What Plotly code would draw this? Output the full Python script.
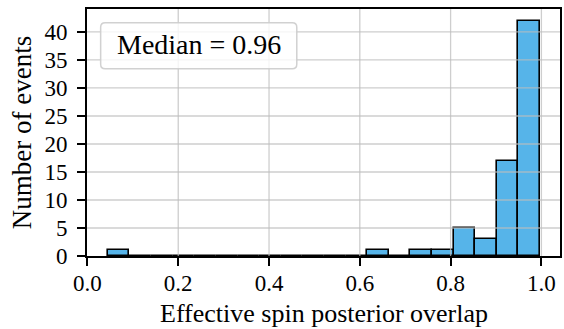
import numpy as np
import plotly.graph_objects as go

# ---- data ----
bin_lo = 0.045
bin_hi = 0.997
n_bins = 20
counts = [1, 0, 0, 0, 0, 0, 0, 0, 0, 0, 0, 0, 1, 0, 1, 1, 5, 3, 17, 42]
x_ticks = [0.0, 0.2, 0.4, 0.6, 0.8, 1.0]
x_tick_labels = ["0.0", "0.2", "0.4", "0.6", "0.8", "1.0"]
y_ticks = [0, 5, 10, 15, 20, 25, 30, 35, 40]
median_text = "Median = 0.96"
x_label = "Effective spin posterior overlap"
y_label = "Number of events"

edges = np.linspace(bin_lo, bin_hi, n_bins + 1)
centers = (edges[:-1] + edges[1:]) / 2
width = edges[1] - edges[0]

FONT = "Liberation Serif, Times New Roman, serif"
W, H = 564, 329
L, R, T, B = 87.3, 561.7, 9.3, 256.0
dw, dh = R - L, B - T

fig = go.Figure()
fig.add_trace(go.Bar(
    x=centers, y=counts, width=[width] * n_bins,
    marker=dict(color="#56B4E9", line=dict(color="black", width=1.6)),
    hoverinfo="skip",
))

shapes = []
grid_col = "rgba(190,190,190,0.75)"
for xv in x_ticks[1:]:
    shapes.append(dict(type="line", xref="x", yref="paper", x0=xv, x1=xv, y0=0, y1=1,
                       line=dict(color=grid_col, width=1.3), layer="above"))
for yv in y_ticks[1:]:
    shapes.append(dict(type="line", xref="paper", yref="y", x0=0, x1=1, y0=yv, y1=yv,
                       line=dict(color=grid_col, width=1.3), layer="above"))

# legend-like rounded box
bx0, bx1, by0, by1 = 101, 297.7, 23, 69
px = lambda v: (v - L) / dw
py = lambda v: (B - v) / dh
r = 4.5
rx, ry = r / dw, r / dh
x0, x1, yt, yb = px(bx0), px(bx1), py(by0), py(by1)
path = (f"M {x0+rx},{yt} L {x1-rx},{yt} Q {x1},{yt} {x1},{yt-ry} "
        f"L {x1},{yb+ry} Q {x1},{yb} {x1-rx},{yb} L {x0+rx},{yb} "
        f"Q {x0},{yb} {x0},{yb+ry} L {x0},{yt-ry} Q {x0},{yt} {x0+rx},{yt} Z")
shapes.append(dict(type="path", xref="paper", yref="paper", path=path,
                   fillcolor="rgba(255,255,255,0.8)",
                   line=dict(color="rgba(204,204,204,0.9)", width=1.5), layer="above"))

annotations = [
    dict(text=median_text, xref="paper", yref="paper", x=px(199.2), y=py(45),
         xanchor="center", yanchor="middle", showarrow=False,
         font=dict(family=FONT, size=28, color="black")),
    dict(text=x_label, xref="paper", yref="paper", x=0.5, y=py(313),
         xanchor="center", yanchor="middle", showarrow=False,
         font=dict(family=FONT, size=26, color="black")),
    dict(text=y_label, xref="paper", yref="paper", x=px(22), y=py(132.5),
         xanchor="center", yanchor="middle", showarrow=False, textangle=-90,
         font=dict(family=FONT, size=27, color="black")),
]

fig.update_layout(
    width=W, height=H,
    margin=dict(l=L, r=W - R, t=T, b=H - B, pad=0),
    plot_bgcolor="white", paper_bgcolor="white",
    showlegend=False, bargap=0,
    shapes=shapes, annotations=annotations,
    font=dict(family=FONT, size=23, color="black"),
)
fig.update_xaxes(
    range=[-0.001, 1.041], tickvals=x_ticks, ticktext=x_tick_labels,
    showgrid=False, zeroline=False, showline=True, linecolor="black", linewidth=1.6,
    mirror=True, ticks="outside", ticklen=8, tickwidth=1.5, tickcolor="black",
    layer="above traces", tickfont=dict(family=FONT, size=23), ticklabelstandoff=-2,
)
fig.update_yaxes(
    range=[0, 44.1], tickvals=y_ticks,
    showgrid=False, zeroline=False, showline=True, linecolor="black", linewidth=1.6,
    mirror=True, ticks="outside", ticklen=8, tickwidth=1.5, tickcolor="black",
    layer="above traces", tickfont=dict(family=FONT, size=23), ticklabelstandoff=5,
)

fig.write_html("out.html")
